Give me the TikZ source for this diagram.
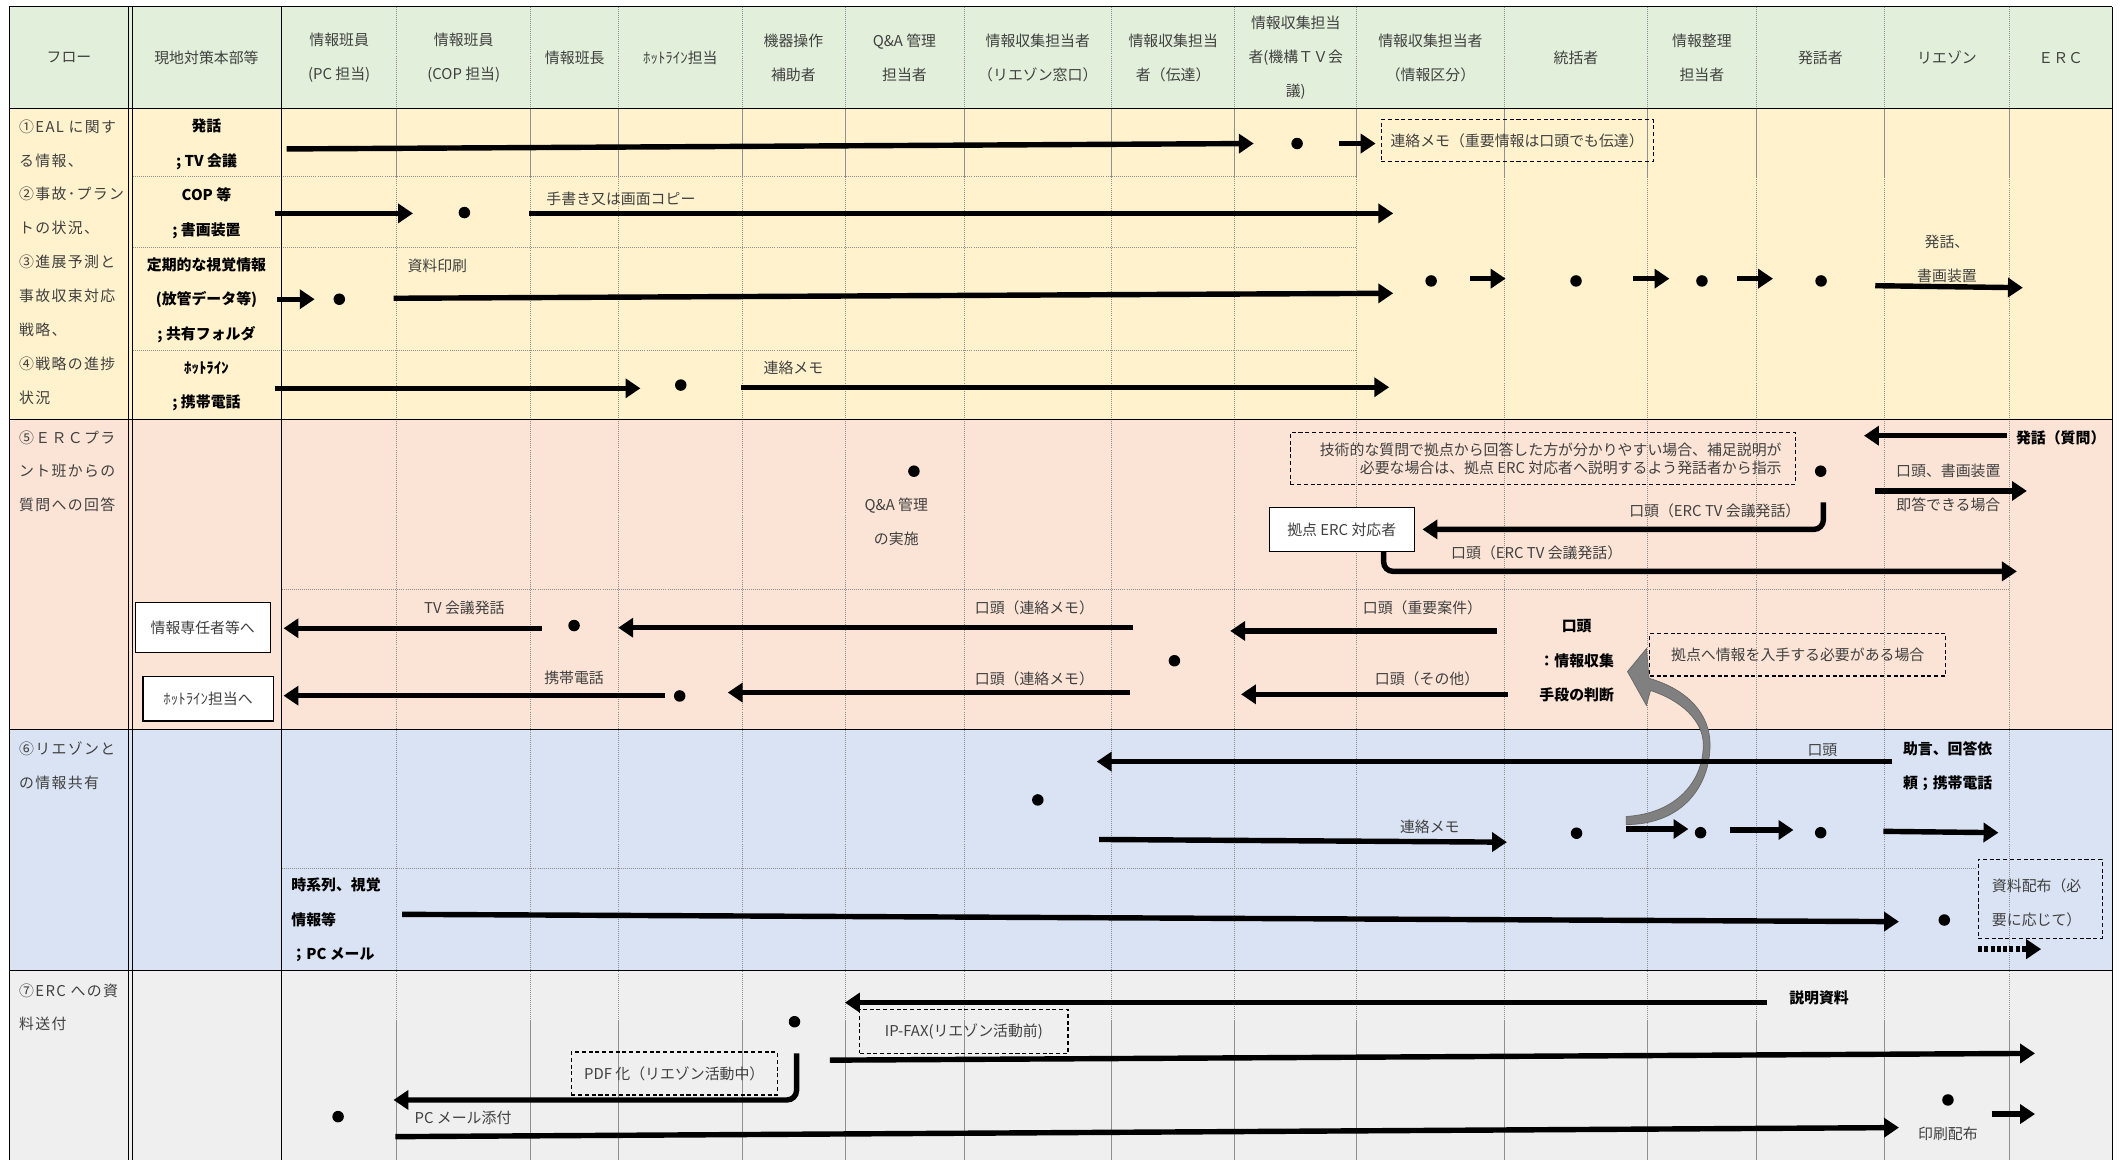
\documentclass[tikz,border=0pt]{standalone}
\usepackage{fontspec}
\setmainfont{Noto Sans CJK JP}
\newfontfamily\jpsp[LetterSpace=9]{Noto Sans CJK JP}
\usetikzlibrary{arrows.meta}
\definecolor{hdrbg}{HTML}{E2EFDA}
\definecolor{ylw}{HTML}{FFF2CC}
\definecolor{pch}{HTML}{FBE4D6}
\definecolor{blu}{HTML}{DAE3F3}
\definecolor{gry}{HTML}{EFEFEF}
\definecolor{txt}{HTML}{404040}
\definecolor{gridc}{HTML}{8F8F8F}
\definecolor{ribbon}{HTML}{808080}
\begin{document}
\begin{tikzpicture}[x=1pt,y=-1pt,
  fl/.style={line width=4pt,-{Triangle[length=11pt,width=14pt]}},
  lbl/.style={font=\fontsize{11}{13}\selectfont, text=txt, inner sep=0pt},
  lbl2/.style={font=\fontsize{11}{25}\selectfont, text=txt, inner sep=0pt, align=center},
  hdr/.style={font=\fontsize{11}{25}\selectfont, text=txt, inner sep=0pt, align=center},
  blbl/.style={font=\fontsize{11}{25.5}\selectfont\bfseries, text=black, inner sep=0pt, align=center},
  lcol/.style={font=\jpsp\fontsize{11}{25}\selectfont, text=txt, inner sep=0pt, align=left, anchor=west},
  dot/.style={circle, fill=black, minimum size=8.5pt, inner sep=0pt},
  dbox/.style={draw=black, dash pattern=on 3pt off 2pt, line width=0.8pt},
  wbox/.style={draw=black, line width=0.9pt, fill=white},
  vgrid/.style={draw=gridc, line width=0.5pt, densely dotted},
  sgrid/.style={draw=gridc, line width=0.5pt},
  bord/.style={draw=black, line width=0.9pt},
]
\useasboundingbox (0,0) rectangle (1568,857);
\fill[white] (0,0) rectangle (1568,857);
% ---------- backgrounds ----------
\fill[hdrbg] (7,5) rectangle (1560,80);
\fill[ylw] (7,80) rectangle (1560,309.7);
\fill[pch] (7,309.7) rectangle (1560,539);
\fill[blu] (7,539) rectangle (1560,717);
\fill[gry] (7,717) rectangle (1560,857);
% ---------- grid ----------
\foreach \x in {293,392,457,548,624,712,821,912,1002,1111,1217,1297,1392,1484} {
  \draw[vgrid] (\x,5) -- (\x,857);
  \draw[sgrid] (\x,80) -- (\x,130.5);
  \draw[sgrid] (\x,754) -- (\x,857);
}
\foreach \y in {130.5,183,259} \draw[vgrid] (98,\y) -- (1002,\y);
\draw[vgrid] (208,435) -- (1484,435);
\draw[vgrid] (208,641) -- (1460,641);
\foreach \y in {5,80,309.7,539,717} \draw[bord] (7,\y) -- (1560,\y);
\foreach \x in {7,95,98,208,1560} \draw[bord] (\x,5) -- (\x,857);
% ---------- header ----------
\node[hdr] (h1) at (51,42.5) {フロー};
\node[hdr] (h2) at (152.5,42.5) {現地対策本部等};
\node[hdr] (h3) at (250.5,42.5) {情報班員\\(PC 担当)};
\node[hdr] (h4) at (342.5,42.5) {情報班員\\(COP 担当)};
\node[hdr] (h5) at (424.5,42.5) {情報班長};
\node[hdr] (h6) at (502.5,42.5) {ﾎｯﾄﾗｲﾝ担当};
\node[hdr] (h7) at (586,42.5) {機器操作\\補助者};
\node[hdr] (h8) at (668,42.5) {Q\&A 管理\\担当者};
\node[hdr] (h9) at (766.5,42.5) {情報収集担当者\\（リエゾン窓口）};
\node[hdr] (h10) at (866.5,42.5) {情報収集担当\\者（伝達）};
\node[hdr] (h11) at (957,42.5) {情報収集担当\\者(機構ＴＶ会\\議)};
\node[hdr] (h12) at (1056.5,42.5) {情報収集担当者\\（情報区分）};
\node[hdr] (h13) at (1164,42.5) {統括者};
\node[hdr] (h14) at (1257,42.5) {情報整理\\担当者};
\node[hdr] (h15) at (1344.5,42.5) {発話者};
\node[hdr] (h16) at (1438,42.5) {リエゾン};
\node[hdr] (h17) at (1522,42.5) {ＥＲＣ};
% ---------- first column ----------
\node[lcol] (f1) at (14,193.5) {①EAL に関す\\る情報、\\②事故･プラン\\トの状況、\\③進展予測と\\事故収束対応\\戦略、\\④戦略の進捗\\状況};
\node[lcol] (f2) at (14,348) {⑤ＥＲＣプラ\\ント班からの\\質問への回答};
\node[lcol] (f3) at (14,565.5) {⑥リエゾンと\\の情報共有};
\node[lcol] (f4) at (14,744) {⑦ERC への資\\料送付};
% ---------- second column ----------
\node[blbl] (c1) at (152.5,106.7) {発話\\; TV 会議};
\node[blbl] (c2) at (152.5,157.6) {COP 等\\; 書画装置};
\node[blbl] (c3) at (152.5,221.5) {定期的な視覚情報\\(放管データ等)\\; 共有フォルダ};
\node[blbl] (c4) at (152.5,285) {ﾎｯﾄﾗｲﾝ\\; 携帯電話};
% ---------- rows 1-4 ----------
\node[dot] (d1) at (958,106) {};
\node[dot] (d2) at (343,157) {};
\node[dot] (d3) at (250.6,221) {};
\node[dot] (d4) at (1057,207.5) {};
\node[dot] (d5) at (1164,207.5) {};
\node[dot] (d6) at (1257,207.5) {};
\node[dot] (d7) at (1345,207.5) {};
\node[dot] (d8) at (502.8,284.4) {};
\coordinate (a1s) at (211.7,110); \coordinate (a1e) at (926,106);
\coordinate (a2s) at (989,106); \coordinate (a2e) at (1016,106);
\coordinate (a3s) at (202.8,157.6); \coordinate (a3e) at (305,157.6);
\coordinate (a4s) at (390.7,157.6); \coordinate (a4e) at (1029,157.6);
\coordinate (a5s) at (204.4,221); \coordinate (a5e) at (232.4,221);
\coordinate (a6s) at (290.8,220.3); \coordinate (a6e) at (1029,216.6);
\coordinate (a7s) at (1086,205.8); \coordinate (a7e) at (1112,205.8);
\coordinate (a8s) at (1206,205.8); \coordinate (a8e) at (1233,205.8);
\coordinate (a9s) at (1283,205.8); \coordinate (a9e) at (1309.5,205.8);
\coordinate (a10s) at (1385,211); \coordinate (a10e) at (1494,212.5);
\coordinate (a11s) at (202.8,286.8); \coordinate (a11e) at (473,286.8);
\coordinate (a12s) at (547,286); \coordinate (a12e) at (1026,286);
\foreach \n in {1,...,12} \draw[fl] (a\n s) -- (a\n e);
\node[dbox, lbl, minimum width=201pt, minimum height=31pt] (m1) at (1120.5,104) {連絡メモ（重要情報は口頭でも伝達）};
\node[lbl] (t1) at (458.6,147) {手書き又は画面コピー};
\node[lbl] (t2) at (323,196.5) {資料印刷};
\node[lbl] (t3) at (586,272) {連絡メモ};
\node[lbl2] (t4) at (1438,191.3) {発話、\\書画装置};
% ---------- row 5 ----------
\node[dot] (d9) at (675,348) {};
\node[dot] (d10) at (1344.7,348) {};
\node[lbl2] (t5) at (662,385.5) {Q\&A 管理\\の実施};
\node[dbox, minimum width=373pt, minimum height=38pt] (m2) at (1139.5,338.5) {};
\node[lbl, align=right, anchor=east, font=\fontsize{11}{13.5}\selectfont] (t6) at (1316,339) {技術的な質問で拠点から回答した方が分かりやすい場合、補足説明が\\必要な場合は、拠点 ERC 対応者へ説明するよう発話者から指示};
\node[blbl] (t7) at (1522,323.6) {発話（質問）};
\node[lbl] (t8) at (1439,348) {口頭、書画装置};
\node[lbl] (t9) at (1439,373) {即答できる場合};
\node[lbl] (t10) at (1266.5,377) {口頭（ERC TV 会議発話）};
\node[wbox, lbl, minimum width=107pt, minimum height=32.4pt] (b1) at (991,391.2) {拠点 ERC 対応者};
\node[lbl] (t11) at (1135,408) {口頭（ERC TV 会議発話）};
\coordinate (a13s) at (1482,321.8); \coordinate (a13e) at (1376.7,321.8);
\coordinate (a14s) at (1385,362.6); \coordinate (a14e) at (1497,362.6);
\coordinate (a15s) at (1346.7,371); \coordinate (a15e) at (1050.6,391);
\coordinate (a16s) at (1021.9,407.4); \coordinate (a16e) at (1489.6,422);
\draw[fl] (a13s) -- (a13e);
\draw[fl] (a14s) -- (a14e);
\draw[fl, rounded corners=7pt] (a15s) |- (a15e);
\draw[fl, rounded corners=7pt] (a16s) |- (a16e);
\node[wbox, lbl, minimum width=99.5pt, minimum height=37pt] (b2) at (149.75,463.5) {情報専任者等へ};
\node[wbox, lbl, minimum width=96.2pt, minimum height=32.7pt] (b3) at (153.7,516.2) {ﾎｯﾄﾗｲﾝ担当へ};
\node[dot] (d11) at (424,462) {};
\node[dot] (d12) at (867.4,488) {};
\node[dot] (d13) at (502,514) {};
\node[lbl] (t12) at (343,449) {TV 会議発話};
\node[lbl] (t13) at (764,449) {口頭（連絡メモ）};
\node[lbl] (t14) at (1050.6,449) {口頭（重要案件）};
\node[lbl] (t15) at (424,501) {携帯電話};
\node[lbl] (t16) at (764,501) {口頭（連絡メモ）};
\node[lbl] (t17) at (1054,501) {口頭（その他）};
\node[blbl] (t18) at (1164.5,488) {口頭\\：情報収集\\手段の判断};
\node[dbox, lbl, minimum width=218.5pt, minimum height=31.3pt] (m3) at (1327.75,483.65) {拠点へ情報を入手する必要がある場合};
\coordinate (a17s) at (400,464); \coordinate (a17e) at (209.4,464);
\coordinate (a18s) at (836.8,463.6); \coordinate (a18e) at (456.6,463.6);
\coordinate (a19s) at (1105.4,466); \coordinate (a19e) at (908.6,466);
\coordinate (a20s) at (491,513.8); \coordinate (a20e) at (209.4,513.8);
\coordinate (a21s) at (834.6,511.5); \coordinate (a21e) at (537.5,511.5);
\coordinate (a22s) at (1113.6,512.8); \coordinate (a22e) at (916.6,512.8);
\foreach \n in {17,...,22} \draw[fl] (a\n s) -- (a\n e);
% gray curved arrow
\path[fill=ribbon, draw=ribbon!80!black, line width=0.5pt]
  (1201,609) .. controls (1243,609) and (1263,580) .. (1263,550)
  .. controls (1263,527) and (1246,509) .. (1218,501)
  -- (1216,479) -- (1202,496) -- (1216,521) -- (1219,510)
  .. controls (1241,517) and (1258,532) .. (1258,550)
  .. controls (1258,578) and (1237,601) .. (1201,603) -- cycle;
% ---------- row 6 ----------
\node[dot] (d14) at (766.5,590.8) {};
\node[dot] (d15) at (1164.4,615.4) {};
\node[dot] (d16) at (1256,615) {};
\node[dot] (d17) at (1344.7,615) {};
\node[dot] (d18) at (1436,679.5) {};
\node[lbl] (t19) at (1346,554) {口頭};
\node[blbl] (t20) at (1438.5,566) {助言、回答依\\頼；携帯電話};
\node[lbl] (t21) at (1056,611) {連絡メモ};
\node[blbl, align=left, anchor=west] (t22) at (215,679.5) {時系列、視覚\\情報等\\；PC メール};
\node[dbox, minimum width=91.5pt, minimum height=58.5pt] (m4) at (1506.75,663.75) {};
\node[lbl2, align=left, anchor=west] (t23) at (1471,667) {資料配布（必\\要に応じて）};
\coordinate (a23s) at (1397.7,562.5); \coordinate (a23e) at (810,562.5);
\coordinate (a24s) at (811.8,620); \coordinate (a24e) at (1113,622);
\coordinate (a25s) at (1201,612.3); \coordinate (a25e) at (1247,612.3);
\coordinate (a26s) at (1278,613); \coordinate (a26e) at (1324.6,613);
\coordinate (a27s) at (1391,614); \coordinate (a27e) at (1476,615);
\coordinate (a28s) at (297,675.3); \coordinate (a28e) at (1402.5,680.7);
\foreach \n in {23,...,28} \draw[fl] (a\n s) -- (a\n e);
\coordinate (a29s) at (1461,701); \coordinate (a29e) at (1507.5,701);
\draw[fl, dash pattern=on 3pt off 1.6pt] (a29s) -- (a29e);
% ---------- row 7 ----------
\node[dot] (d19) at (586.8,754.6) {};
\node[dot] (d20) at (249.7,824.7) {};
\node[dot] (d21) at (1438.7,812.4) {};
\node[blbl] (t24) at (1343.5,737) {説明資料};
\node[dbox, lbl, minimum width=153.8pt, minimum height=32.6pt] (m5) at (711.9,761.7) {IP-FAX(リエゾン活動前)};
\node[dbox, lbl, minimum width=152pt, minimum height=31.7pt] (m6) at (498,792.85) {PDF 化（リエゾン活動中）};
\node[lbl] (t25) at (342,825.5) {PC メール添付};
\node[lbl] (t26) at (1438.7,837.5) {印刷配布};
\coordinate (a30s) at (1305,740.5); \coordinate (a30e) at (624,740.5);
\coordinate (a31s) at (613,783); \coordinate (a31e) at (1503,778);
\coordinate (a32s) at (588.3,778); \coordinate (a32e) at (290.6,812.4);
\coordinate (a33s) at (292,839.5); \coordinate (a33e) at (1402.5,832.8);
\coordinate (a34s) at (1471,822.8); \coordinate (a34e) at (1503,822.8);
\draw[fl] (a30s) -- (a30e);
\draw[fl] (a31s) -- (a31e);
\draw[fl, rounded corners=7pt] (a32s) |- (a32e);
\draw[fl] (a33s) -- (a33e);
\draw[fl] (a34s) -- (a34e);
\end{tikzpicture}
\end{document}
